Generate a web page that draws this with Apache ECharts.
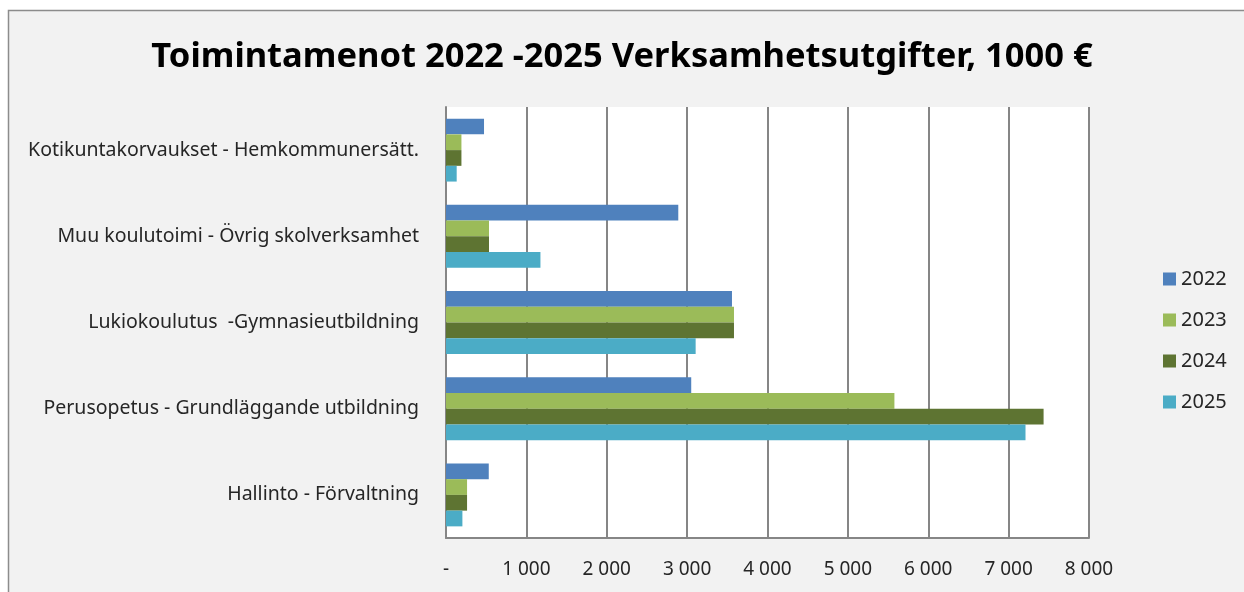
<!DOCTYPE html>
<html>
<head>
<meta charset="utf-8">
<script src="https://cdn.jsdelivr.net/npm/echarts@6/dist/echarts.min.js"></script>
<style>
  html, body { margin: 0; padding: 0; background: #fff; }
  #chart { width: 1244px; height: 592px; }
</style>
</head>
<body>
<div id="chart"></div>
<script>
// categories, bottom to top as in the picture
var categories = [
    "Hallinto - Förvaltning",
    "Perusopetus - Grundläggande utbildning",
    "Lukiokoulutus  -Gymnasieutbildning",
    "Muu koulutoimi - Övrig skolverksamhet",
    "Kotikuntakorvaukset - Hemkommunersätt."
]
var years = ["2022", "2023", "2024", "2025"]
var colors = ["#4F81BD", "#9BBB59", "#5E7432", "#4BACC6"]

var values2022 = [532, 3051, 3558, 2890, 473]
var values2023 = [262, 5579, 3583, 535, 192]
var values2024 = [262, 7435, 3583, 535, 192]
var values2025 = [204, 7210, 3106, 1175, 133]

var xTicks = { min: 0, max: 8000, interval: 1000 }

function fmt(v){
    if (v === 0) return "-"
    return String(v).replace(/\B(?=(\d{3})+(?!\d))/g, " ")
}

var chart = echarts.init(document.getElementById("chart"))
var allValues = [values2022, values2023, values2024, values2025]

var series = []
for (let i = 0; i < years.length; i++){
    series.push({
        name: years[i],
        type: 'bar',
        data: allValues[i],
        itemStyle: { color: colors[i] },
        barGap: '0%',
        barCategoryGap: '27%'
    })
}

var option = {
    backgroundColor: '#ffffff',
    animation: false,
    graphic: [
        {
            type: 'rect',
            z: -10,
            shape: { x: 8.5, y: 10.5, width: 1250, height: 600 },
            style: { fill: '#f2f2f2', stroke: '#8c8c8c', lineWidth: 1.5 }
        }
    ],
    title: {
        text: "Toimintamenot 2022 -2025 Verksamhetsutgifter, 1000 €",
        left: 'center',
        top: 35,
        padding: [5, 5, 5, 18],
        textStyle: {
            fontFamily: 'Noto Sans',
            fontWeight: 'bold',
            fontSize: 34.5,
            color: '#000'
        }
    },
    legend: {
        data: years,
        orient: 'vertical',
        left: 1158,
        top: 264,
        itemWidth: 13,
        itemHeight: 13,
        itemGap: 21,
        icon: 'rect',
        textStyle: { fontFamily: 'Noto Sans', fontSize: 20, color: '#262626' }
    },
    grid: {
        left: 446,
        right: 155,
        top: 107,
        bottom: 54,
        show: true,
        backgroundColor: '#ffffff',
        borderWidth: 0
    },
    xAxis: {
        type: 'value',
        min: xTicks.min,
        max: xTicks.max,
        interval: xTicks.interval,
        axisLine: { show: true, lineStyle: { color: '#868686', width: 2 } },
        axisTick: { show: false },
        splitLine: { show: true, lineStyle: { color: '#868686', width: 2 } },
        axisLabel: {
            formatter: fmt,
            margin: 22,
            fontFamily: 'Noto Sans',
            fontSize: 19,
            color: '#262626'
        }
    },
    yAxis: {
        type: 'category',
        data: categories,
        axisLine: { show: true, lineStyle: { color: '#868686', width: 2 } },
        axisTick: { show: false },
        axisLabel: {
            margin: 27,
            fontFamily: 'Noto Sans',
            fontSize: 19.5,
            color: '#262626'
        }
    },
    series: series
}
chart.setOption(option)
</script>
</body>
</html>
